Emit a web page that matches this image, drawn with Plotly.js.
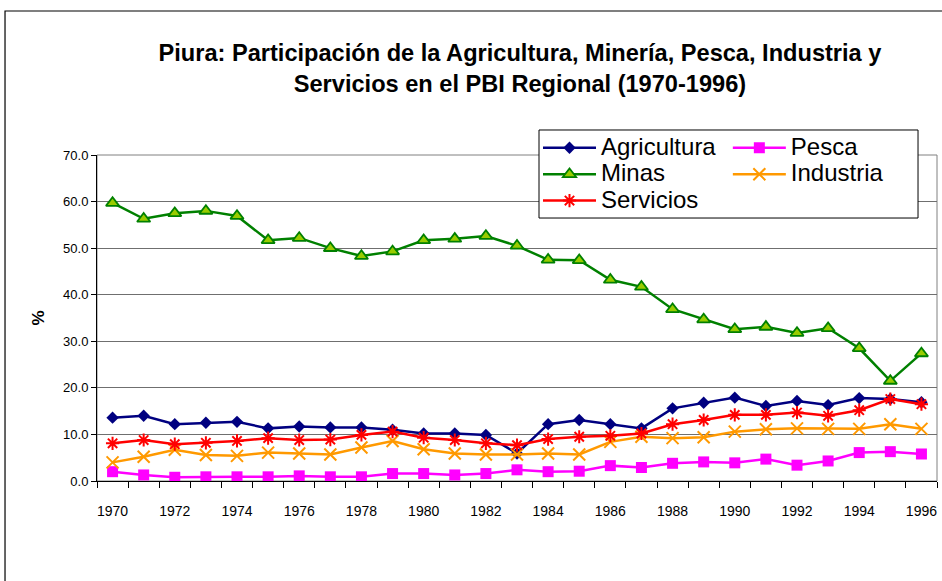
<!DOCTYPE html>
<html>
<head>
<meta charset="utf-8">
<script src="https://cdn.plot.ly/plotly-3.0.1.min.js"></script>
<style>html,body{margin:0;padding:0;background:#fff;}#chart{width:942px;height:581px;}</style>
</head>
<body>
<div id="chart"></div>
<script>
var years = [1970,1971,1972,1973,1974,1975,1976,1977,1978,1979,1980,1981,1982,1983,1984,1985,1986,1987,1988,1989,1990,1991,1992,1993,1994,1995,1996];
var agricultura = [13.6,14.0,12.2,12.5,12.7,11.3,11.7,11.5,11.5,11.0,10.2,10.2,9.9,5.9,12.2,13.1,12.2,11.3,15.6,16.8,17.9,16.1,17.2,16.3,17.8,17.6,16.9];
var minas = [59.7,56.3,57.5,58.0,56.9,51.7,52.2,50.0,48.3,49.3,51.7,52.0,52.6,50.5,47.5,47.4,43.2,41.7,36.9,34.7,32.6,33.1,31.8,32.8,28.5,21.5,27.4];
var pesca = [2.0,1.3,0.8,0.9,0.9,0.9,1.1,0.9,0.9,1.6,1.6,1.3,1.6,2.4,2.0,2.1,3.3,2.9,3.8,4.1,3.9,4.7,3.4,4.3,6.1,6.3,5.8];
var industria = [4.0,5.2,6.7,5.6,5.4,6.1,5.9,5.7,7.2,8.6,6.8,5.9,5.7,5.7,5.9,5.7,8.4,9.5,9.2,9.4,10.6,11.1,11.3,11.2,11.2,12.2,11.2];
var servicios = [8.1,8.8,7.9,8.2,8.6,9.2,8.8,8.9,9.9,10.6,9.3,8.8,8.1,7.7,9.0,9.5,9.7,10.2,12.2,13.1,14.2,14.2,14.7,14.0,15.2,17.6,16.5];
var xTickVals = [1970,1972,1974,1976,1978,1980,1982,1984,1986,1988,1990,1992,1994,1996];
var xTickText = ['1970','1972','1974','1976','1978','1980','1982','1984','1986','1988','1990','1992','1994','1996'];
var yTickVals = [0,10,20,30,40,50,60,70];
var titleText = 'Piura: Participación de la Agricultura, Minería, Pesca, Industria y<br>Servicios en el PBI Regional (1970-1996)';

function nm(s){ return '<span style="font-size:24px">' + s + '</span>'; }

var traces = [
  {x: years, y: agricultura, name: nm('Agricultura'), type: 'scatter', mode: 'lines+markers', legend: 'legend', legendrank: 1,
   line: {color: '#000080', width: 2.5}, marker: {symbol: 'diamond', size: 9.5, color: '#000080'}},
  {x: years, y: minas, name: nm('Minas'), type: 'scatter', mode: 'lines+markers', legend: 'legend', legendrank: 2,
   line: {color: '#008000', width: 2.5}, marker: {symbol: 'triangle-up', size: 11.5, color: '#99CC00', line: {color: '#008000', width: 1.8}}},
  {x: years, y: pesca, name: nm('Pesca'), type: 'scatter', mode: 'lines+markers', legend: 'legend2', legendrank: 1,
   line: {color: '#FF00FF', width: 2.5}, marker: {symbol: 'square', size: 11, color: '#FF00FF'}},
  {x: years, y: industria, name: nm('Industria'), type: 'scatter', mode: 'lines+markers', legend: 'legend2', legendrank: 2,
   line: {color: '#FF9900', width: 2.5}, marker: {symbol: 'x-thin-open', size: 12, color: '#FF9900', line: {color: '#FF9900', width: 2}}},
  {x: years, y: servicios, name: nm('Servicios'), type: 'scatter', mode: 'lines+markers', legend: 'legend', legendrank: 3,
   line: {color: '#FF0000', width: 2.5}, marker: {symbol: 'asterisk-open', size: 11, color: '#FF0000', line: {color: '#FF0000', width: 2}}}
];

var legendCommon = {
  bgcolor: 'rgba(0,0,0,0)', borderwidth: 0, orientation: 'v', yanchor: 'top', xanchor: 'left',
  font: {family: 'Liberation Sans, Arial, sans-serif', size: 18, color: '#000'},
  itemwidth: 53, tracegroupgap: 0, itemclick: false, itemdoubleclick: false
};

var layout = {
  width: 942, height: 581,
  margin: {l: 97, r: 5, t: 155, b: 100, pad: 0},
  paper_bgcolor: '#ffffff', plot_bgcolor: '#ffffff',
  font: {family: 'Liberation Sans, Arial, sans-serif', color: '#000'},
  title: {text: titleText, font: {family: 'Liberation Sans, Arial, sans-serif', size: 23.6, color: '#000', weight: 'bold'},
          x: 0.552, xref: 'container', xanchor: 'center', y: 0.895, yref: 'container', yanchor: 'middle'},
  showlegend: true,
  legend: Object.assign({}, legendCommon, {x: 0.525, y: 1.078}),
  legend2: Object.assign({}, legendCommon, {x: 0.751, y: 1.078}),
  xaxis: {
    range: [1969.5, 1996.5], tickmode: 'array', tickvals: xTickVals, ticktext: xTickText,
    ticks: '', showgrid: false, zeroline: false, showline: true, linecolor: '#000', linewidth: 1,
    tickfont: {size: 14, color: '#000'}, ticklabelstandoff: 17,
    minor: {tickmode: 'linear', tick0: 1969.5, dtick: 1, ticks: 'outside', ticklen: 6, tickcolor: '#000', tickwidth: 1, showgrid: false},
    fixedrange: true
  },
  yaxis: {
    range: [0, 70], tickmode: 'array', tickvals: yTickVals, tickformat: '.1f',
    ticks: 'outside', ticklen: 5, tickcolor: '#000', tickwidth: 1,
    showgrid: true, gridcolor: '#6f6f6f', gridwidth: 1, zeroline: false,
    showline: true, linecolor: '#000', linewidth: 1,
    tickfont: {size: 13, color: '#000'},
    title: {text: '%', font: {size: 17, color: '#000', weight: 'bold'}, standoff: 14},
    fixedrange: true
  },
  shapes: [
    {type: 'rect', xref: 'paper', yref: 'paper', x0: 0, x1: 1, y0: 0, y1: 1, line: {color: '#808080', width: 1}, layer: 'below'},
    {type: 'rect', xref: 'paper', yref: 'paper', x0: -0.1095, x1: 1.1, y0: -0.5, y1: 1.4417, line: {color: '#000', width: 1.2}, layer: 'below'},
    {type: 'rect', xref: 'paper', yref: 'paper', x0: 0.5262, x1: 0.9774, y0: 0.8067, y1: 1.0767, line: {color: '#000', width: 1}, fillcolor: '#ffffff', layer: 'above'}
  ]
};

Plotly.newPlot('chart', traces, layout, {displayModeBar: false, staticPlot: true});
</script>
</body>
</html>
